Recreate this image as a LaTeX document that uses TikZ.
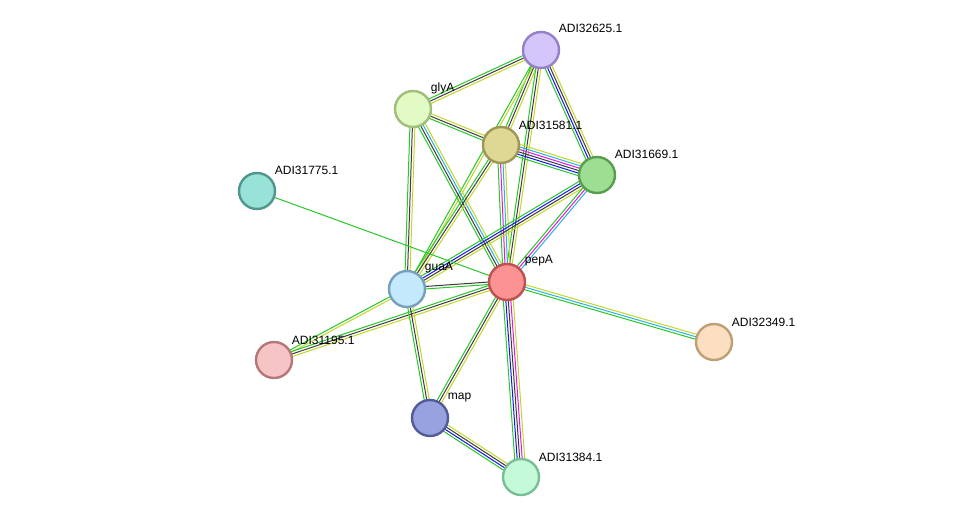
\documentclass[tikz,border=0pt]{standalone}
\usepackage{fontspec}
\setmainfont{Liberation Sans}
\usetikzlibrary{calc,backgrounds}

\definecolor{lkgreen}{RGB}{40,200,40}
\definecolor{lkblue}{RGB}{20,20,240}
\definecolor{lkblack}{RGB}{60,60,60}
\definecolor{lkyellow}{RGB}{195,215,40}
\definecolor{lkcyan}{RGB}{40,180,225}
\definecolor{lkpink}{RGB}{230,20,230}

\tikzset{
  protein/.style={circle, draw, line width=2.4pt, minimum size=36pt, inner sep=0pt},
  plabel/.style={anchor=west, inner sep=0.75pt, font=\fontsize{12}{14}\selectfont},
}

% link between two proteins, one thin line per evidence colour
\newcommand\stringlink[4]{%
  \foreach \c [count=\i] in {#4}{%
    \pgfmathsetmacro\off{(\i-(#3+1)/2)*2.5}%
    \draw[\c, line width=1pt] ($(#1.center)!\off pt!90:(#2.center)$) -- ($(#2.center)!\off pt!-90:(#1.center)$);
  }}

\begin{document}
\begin{tikzpicture}[x=1pt,y=-1pt]
\useasboundingbox (0,0) rectangle (975,523);

%Shape: Circle
\node (c32625) [protein, fill={rgb,255:red,212;green,197;blue,250}, draw={rgb,255:red,150;green,128;blue,200}] at (541,50) {};
\node (glyA) [protein, fill={rgb,255:red,226;green,250;blue,196}, draw={rgb,255:red,160;green,190;blue,122}] at (413,109) {};
\node (c31581) [protein, fill={rgb,255:red,222;green,216;blue,148}, draw={rgb,255:red,158;green,152;blue,88}] at (501,145) {};
\node (c31669) [protein, fill={rgb,255:red,157;green,222;blue,146}, draw={rgb,255:red,88;green,158;blue,80}] at (597,175) {};
\node (c31775) [protein, fill={rgb,255:red,152;green,226;blue,216}, draw={rgb,255:red,80;green,150;blue,140}] at (257,191) {};
\node (guaA) [protein, fill={rgb,255:red,196;green,232;blue,252}, draw={rgb,255:red,120;green,160;blue,190}] at (407,289) {};
\node (pepA) [protein, fill={rgb,255:red,252;green,146;blue,146}, draw={rgb,255:red,190;green,80;blue,80}] at (507,282) {};
\node (c32349) [protein, fill={rgb,255:red,252;green,222;blue,192}, draw={rgb,255:red,190;green,160;blue,120}] at (714,342) {};
\node (c31195) [protein, fill={rgb,255:red,246;green,196;blue,196}, draw={rgb,255:red,180;green,120;blue,120}] at (274,360) {};
\node (map) [protein, fill={rgb,255:red,152;green,162;blue,222}, draw={rgb,255:red,82;green,92;blue,152}] at (430,418) {};
\node (c31384) [protein, fill={rgb,255:red,196;green,250;blue,216}, draw={rgb,255:red,122;green,190;blue,150}] at (521,477) {};

% Links
\begin{pgfonlayer}{background}
\fill[white] (0,0) rectangle (975,523);
\stringlink{c32625}{glyA}{3}{lkgreen,lkblack,lkyellow}
\stringlink{c32625}{c31581}{3}{lkgreen,lkblack,lkyellow}
\stringlink{c32625}{guaA}{2}{lkgreen,lkyellow}
\stringlink{c32625}{pepA}{3}{lkgreen,lkblack,lkyellow}
\stringlink{c32625}{c31669}{4}{lkgreen,lkblue,lkblack,lkyellow}
\stringlink{glyA}{c31581}{3}{lkgreen,lkblack,lkyellow}
\stringlink{glyA}{guaA}{3}{lkgreen,lkblack,lkyellow}
\stringlink{glyA}{pepA}{4}{lkgreen,lkblack,lkcyan,lkyellow}
\stringlink{c31581}{c31669}{6}{lkgreen,lkblue,lkblack,lkpink,lkcyan,lkyellow}
\stringlink{c31581}{guaA}{3}{lkgreen,lkblack,lkyellow}
\stringlink{c31581}{pepA}{4}{lkgreen,lkpink,lkcyan,lkyellow}
\stringlink{c31669}{guaA}{4}{lkgreen,lkblue,lkblack,lkyellow}
\stringlink{c31669}{pepA}{3}{lkgreen,lkpink,lkcyan}
\stringlink{c31775}{pepA}{1}{lkgreen}
\stringlink{guaA}{pepA}{2}{lkgreen,lkblack}
\stringlink{guaA}{c31195}{2}{lkgreen,lkyellow}
\stringlink{pepA}{c31195}{3}{lkgreen,lkblack,lkyellow}
\stringlink{guaA}{map}{3}{lkgreen,lkblack,lkyellow}
\stringlink{pepA}{map}{3}{lkgreen,lkblack,lkyellow}
\stringlink{pepA}{c31384}{5}{lkgreen,lkblue,lkblack,lkpink,lkyellow}
\stringlink{map}{c31384}{4}{lkgreen,lkblue,lkblack,lkyellow}
\stringlink{pepA}{c32349}{3}{lkgreen,lkcyan,lkyellow}
\end{pgfonlayer}

% Text Node
\node (c32625-l) [plabel] at ($(c32625)+(17,-22)$) {ADI32625.1};
\node (glyA-l) [plabel] at ($(glyA)+(17,-21)$) {glyA};
\node (c31581-l) [plabel] at ($(c31581)+(17,-20)$) {ADI31581.1};
\node (c31669-l) [plabel] at ($(c31669)+(17,-21)$) {ADI31669.1};
\node (c31775-l) [plabel] at ($(c31775)+(17,-21)$) {ADI31775.1};
\node (guaA-l) [plabel] at ($(guaA)+(17,-21)$) {guaA};
\node (pepA-l) [plabel] at ($(pepA)+(17,-21)$) {pepA};
\node (c32349-l) [plabel] at ($(c32349)+(17,-20)$) {ADI32349.1};
\node (c31195-l) [plabel] at ($(c31195)+(17,-20)$) {ADI31195.1};
\node (map-l) [plabel] at ($(map)+(17,-20)$) {map};
\node (c31384-l) [plabel] at ($(c31384)+(17,-20)$) {ADI31384.1};

\end{tikzpicture}
\end{document}
